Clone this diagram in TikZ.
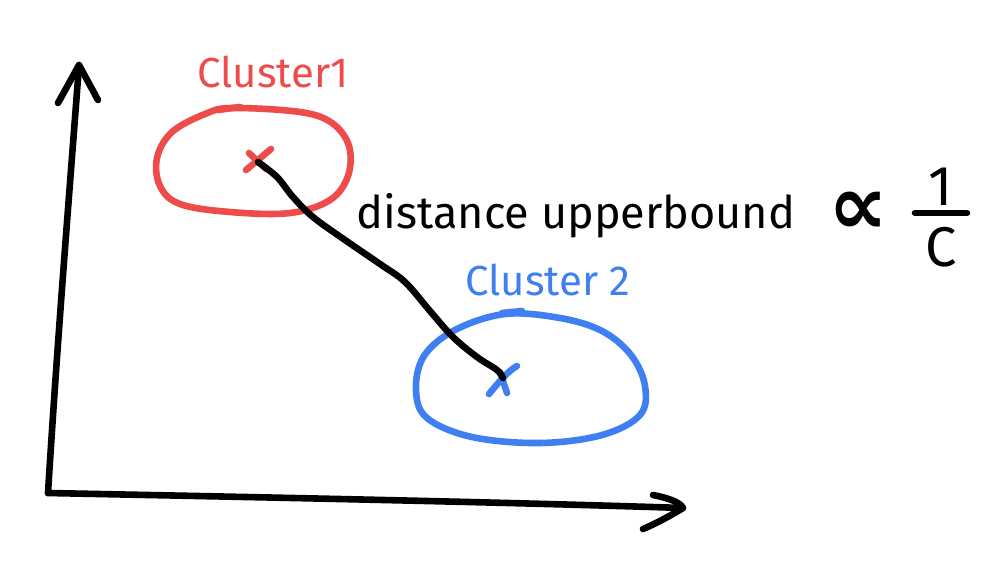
\documentclass[tikz,border=0pt]{standalone}
\usepackage{fontspec}
\setmainfont{Fira Sans}
\newfontfamily\symfont{DejaVu Sans}
\definecolor{cred}{HTML}{EE4B4B}
\definecolor{cblue}{HTML}{3F7FF2}
\tikzset{
  pen/.style={line width=3.3pt, line cap=round, line join=round},
  lbl/.style={inner sep=0pt, font=\fontsize{21}{25}\selectfont},
  fr/.style={inner sep=0pt, font=\fontsize{28}{32}\selectfont},
}
\begin{document}
\begin{tikzpicture}[x=0.5pt,y=-0.5pt]
\useasboundingbox[fill=white] (0,0) rectangle (1008,564);
% axes
\coordinate (origin) at (48,493);
\coordinate (ytip) at (79,65);
\coordinate (xtip) at (683,508);
\draw[pen] (origin) .. controls (58,330) and (72,160) .. (ytip);
\draw[pen] (58,103) -- (ytip) -- (98,100);
\draw[pen] (origin) .. controls (250,497) and (500,502) .. (xtip);
\draw[pen] (653,495) .. controls (668,498) and (680,502) .. (xtip) .. controls (670,516) and (655,524) .. (643,529);
% clusters
\draw[pen, cred] plot[smooth cycle, tension=0.6] coordinates {
  (232,108) (300,112) (332,123) (349,146) (348,176) (330,200) (290,213)
  (230,212) (180,204) (160,186) (157,158) (172,132) (205,114)};
\draw[pen, cred] (218,110) -- (240,107);
\draw[pen, cblue] plot[smooth cycle, tension=0.6] coordinates {
  (505,314) (560,318) (602,331) (631,355) (645,386) (640,415) (602,435)
  (540,443) (472,437) (427,418) (416,390) (424,356) (455,330)};
\draw[pen, cblue] (502,313) -- (522,311);
% cross marks
\coordinate (rx) at (258,162);
\coordinate (bx) at (503,378);
\draw[pen, cred] (246,170) -- (271,149);
\draw[pen, cred] (249,153) -- (266,169);
\draw[pen, cblue] (489,394) .. controls (498,383) and (508,371) .. (517,366);
\draw[pen, cblue] (500,372) -- (507,393);
% connector
\draw[pen, black] plot[smooth, tension=0.6] coordinates {
  (rx) (277,177) (293,197) (313,217) (345,240) (380,264) (405,282)
  (430,311) (453,337) (477,357) (497,370) (bx)};
% labels
\node[lbl, text=cred] (t1) at (273,72) {Cluster1};
\node[lbl, text=cblue] (t2) at (548,280) {Cluster 2};
\node[inner sep=0pt, anchor=base, font=\fontsize{22.5}{27}\selectfont] (t3) at (576,228) {distance upperbound};
\node[inner sep=0pt, font=\fontsize{42}{46}\symfont\bfseries] (t4) at (858,213) {∝};
\node[fr, anchor=base] (num) at (941,205) {1};
\node[fr, anchor=north] (den) at (941,227) {C};
\draw[pen] (915,213) -- (967,213);
\end{tikzpicture}
\end{document}
